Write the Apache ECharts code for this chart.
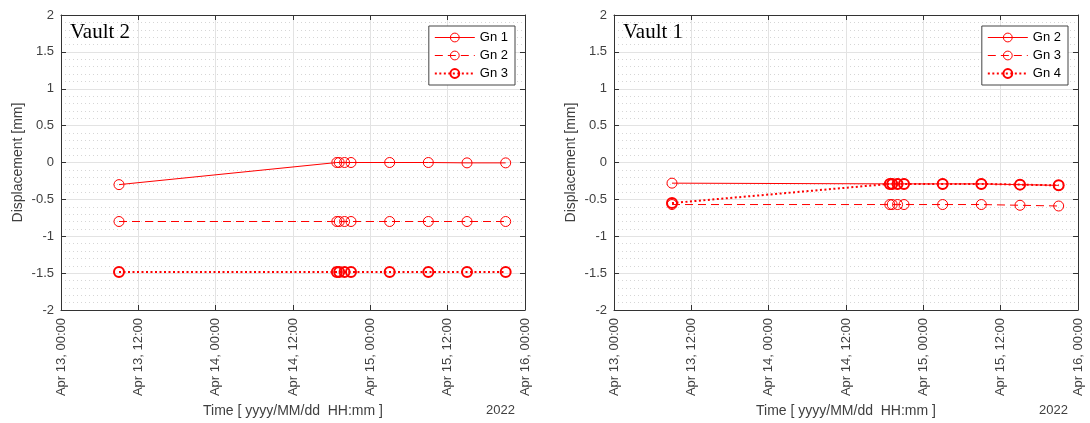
<!DOCTYPE html>
<html>
<head>
<meta charset="utf-8">
<script src="https://cdn.jsdelivr.net/npm/echarts@6/dist/echarts.min.js"></script>
<style>
html,body{margin:0;padding:0;background:#fff}
#main{width:1090px;height:423px}
</style>
</head>
<body>
<div id="main"></div>
<script>
// measurement times (same for both vaults)
var times = ['2022-04-13 09:00','2022-04-14 18:48','2022-04-14 19:10','2022-04-14 20:00','2022-04-14 21:00',
             '2022-04-15 03:00','2022-04-15 09:00','2022-04-15 15:00','2022-04-15 21:00']

// Vault 2 displacements [mm]
var v2_gn1 = [-0.30, 0.00, 0.00, 0.00, 0.00, 0.00, 0.00, -0.005, -0.005]
var v2_gn2 = [-0.80, -0.80, -0.80, -0.80, -0.80, -0.80, -0.80, -0.80, -0.80]
var v2_gn3 = [-1.485, -1.485, -1.485, -1.485, -1.485, -1.485, -1.485, -1.485, -1.485]

// Vault 1 displacements [mm]
var v1_gn2 = [-0.28, -0.29, -0.29, -0.29, -0.29, -0.29, -0.29, -0.30, -0.31]
var v1_gn3 = [-0.57, -0.57, -0.57, -0.57, -0.57, -0.57, -0.57, -0.58, -0.59]
var v1_gn4 = [-0.55, -0.29, -0.29, -0.29, -0.29, -0.29, -0.29, -0.30, -0.31]

var yTicks = [-2, -1.5, -1, -0.5, 0, 0.5, 1, 1.5, 2]
var months = ['Jan','Feb','Mar','Apr','May','Jun','Jul','Aug','Sep','Oct','Nov','Dec']

var base = Date.UTC(2022, 3, 13, 0, 0)
function hrs(s)
{
    var d = s.split(' ')[0].split('-'), t = s.split(' ')[1].split(':')
    return (Date.UTC(+d[0], +d[1]-1, +d[2], +t[0], +t[1]) - base) / 3600000
}
function pad(n){ return (n<10?'0':'')+n }
function timeLabel(h)
{
    var dt = new Date(base + h*3600000)
    return months[dt.getUTCMonth()]+' '+dt.getUTCDate()+', '+pad(dt.getUTCHours())+':'+pad(dt.getUTCMinutes())
}
function pts(vals){ return times.map(function(t,i){ return [hrs(t), vals[i]] }) }

var red = '#ff0000'
var axisCol = '#333'
var txtCol = '#404040'
var font = 'Liberation Sans'

function styles(kind)
{
    var ls = {color: red, width: 1, type: 'solid'}
    var bw = 1
    if(kind=='dash') ls.type = [8,5]
    if(kind=='dot'){ ls.type = [2,2.5]; ls.width = 2; bw = 2 }
    return {ls: ls, is: {color: 'rgba(255,255,255,0)', borderColor: red, borderWidth: bw}}
}

function mkSeries(name, vals, g, kind)
{
    var s = styles(kind)
    return {
        name: name, type: 'line', xAxisIndex: g*2, yAxisIndex: g*2,
        data: pts(vals), symbol: 'circle', symbolSize: 10, showSymbol: true,
        lineStyle: s.ls, itemStyle: s.is,
        emphasis: {disabled: true}, z: 5
    }
}

function legItem(name, kind)
{
    var s = styles(kind)
    return {name: name, lineStyle: s.ls, itemStyle: s.is}
}

var xAxes = [], yAxes = []
for(var g=0; g<2; g++)
{
    xAxes.push({
        type: 'value', gridIndex: g, position: 'bottom', min: 0, max: 72, interval: 12,
        axisLine: {show: true, onZero: false, lineStyle: {color: axisCol, width: 1}},
        axisTick: {show: true, inside: true, length: 5, lineStyle: {color: axisCol}},
        axisLabel: {rotate: 90, margin: 8, color: txtCol, fontFamily: font, fontSize: 13, formatter: timeLabel},
        splitLine: {show: true, lineStyle: {color: '#e3e3e3', width: 1}},
        name: 'Time [ yyyy/MM/dd  HH:mm ]', nameLocation: 'middle', nameGap: 93,
        nameTextStyle: {color: txtCol, fontFamily: font, fontSize: 14}
    })
    xAxes.push({
        type: 'value', gridIndex: g, position: 'top', min: 0, max: 72, interval: 12,
        axisLine: {show: true, onZero: false, lineStyle: {color: axisCol, width: 1}},
        axisTick: {show: true, inside: true, length: 5, lineStyle: {color: axisCol}},
        axisLabel: {show: false}, splitLine: {show: false}
    })
    yAxes.push({
        type: 'value', gridIndex: g, position: 'left', min: yTicks[0], max: yTicks[yTicks.length-1], interval: 0.5,
        axisLine: {show: true, onZero: false, lineStyle: {color: axisCol, width: 1}},
        axisTick: {show: true, inside: true, length: 5, lineStyle: {color: axisCol}},
        axisLabel: {margin: 7, color: txtCol, fontFamily: font, fontSize: 13},
        splitLine: {show: true, lineStyle: {color: '#e3e3e3', width: 1}},
        minorTick: {show: false, splitNumber: 5},
        minorSplitLine: {show: true, lineStyle: {color: '#d6d6d6', width: 1, type: [1,3]}},
        name: 'Displacement [mm]', nameLocation: 'middle', nameGap: 36,
        nameTextStyle: {color: txtCol, fontFamily: font, fontSize: 14}
    })
    yAxes.push({
        type: 'value', gridIndex: g, position: 'right', min: -2, max: 2, interval: 0.5,
        axisLine: {show: true, onZero: false, lineStyle: {color: axisCol, width: 1}},
        axisTick: {show: true, inside: true, length: 5, lineStyle: {color: axisCol}},
        axisLabel: {show: false}, splitLine: {show: false}
    })
}

var legendBase = {
    orient: 'vertical', top: 26, padding: [5,7,5,5], itemGap: 5,
    itemWidth: 40, itemHeight: 11, backgroundColor: '#fff',
    borderColor: '#444', borderWidth: 1, borderRadius: 0,
    textStyle: {color: '#000', fontFamily: font, fontSize: 13},
    selectedMode: false,
    formatter: function(n){ return n.slice(3) }
}

var option = {
    animation: false,
    backgroundColor: '#fff',
    grid: [
        {left: 61, right: 565, top: 15, bottom: 113},
        {left: 614, right: 12, top: 15, bottom: 113}
    ],
    title: [
        {text: 'Vault 2', left: 70, top: 22, padding: 0, textStyle: {fontFamily: 'Liberation Serif', fontSize: 21, fontWeight: 'normal', color: '#000'}},
        {text: 'Vault 1', left: 623, top: 22, padding: 0, textStyle: {fontFamily: 'Liberation Serif', fontSize: 21, fontWeight: 'normal', color: '#000'}},
        {text: '2022', right: 575, top: 404, padding: 0, textStyle: {fontFamily: font, fontSize: 13, fontWeight: 'normal', color: txtCol}},
        {text: '2022', right: 22, top: 404, padding: 0, textStyle: {fontFamily: font, fontSize: 13, fontWeight: 'normal', color: txtCol}}
    ],
    legend: [
        Object.assign({}, legendBase, {right: 575, data: [legItem('V2 Gn 1','solid'), legItem('V2 Gn 2','dash'), legItem('V2 Gn 3','dot')]}),
        Object.assign({}, legendBase, {right: 22, data: [legItem('V1 Gn 2','solid'), legItem('V1 Gn 3','dash'), legItem('V1 Gn 4','dot')]})
    ],
    xAxis: xAxes,
    yAxis: yAxes,
    series: [
        mkSeries('V2 Gn 1', v2_gn1, 0, 'solid'),
        mkSeries('V2 Gn 2', v2_gn2, 0, 'dash'),
        mkSeries('V2 Gn 3', v2_gn3, 0, 'dot'),
        mkSeries('V1 Gn 2', v1_gn2, 1, 'solid'),
        mkSeries('V1 Gn 3', v1_gn3, 1, 'dash'),
        mkSeries('V1 Gn 4', v1_gn4, 1, 'dot')
    ]
}

var myChart = echarts.init(document.getElementById('main'))
myChart.setOption(option)
</script>
</body>
</html>
